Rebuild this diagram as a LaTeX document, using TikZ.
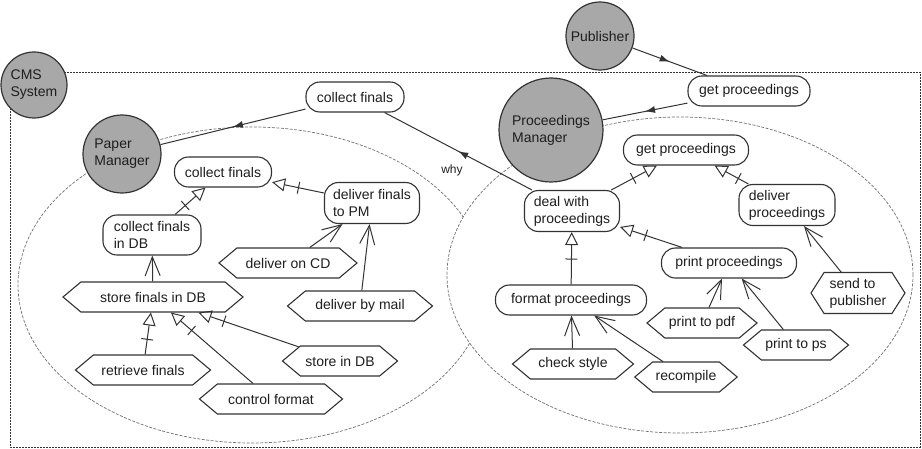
\documentclass[tikz,border=0pt]{standalone}
\usepackage{fontspec}
\setmainfont{Liberation Sans}
\usetikzlibrary{arrows.meta,shapes.symbols,decorations.markings}
\definecolor{ink}{HTML}{333333}
\definecolor{txt}{HTML}{1E1E1E}
\definecolor{actorfill}{HTML}{A8A8A8}
\definecolor{bound}{HTML}{707070}
\begin{document}
\begin{tikzpicture}[x=1pt,y=-1pt,
  every node/.style={font=\fontsize{14}{17}\selectfont, text=txt},
  actor/.style={circle, draw=ink, line width=1.2pt, fill=actorfill, align=left, inner sep=0pt},
  goal/.style={rectangle, rounded corners=14pt, draw=ink, line width=1.1pt, fill=white,
    minimum height=30pt, inner sep=3pt, align=left},
  task/.style={signal, signal to=east and west, signal pointer angle=80, draw=ink,
    line width=1.1pt, fill=white, minimum height=30pt, inner sep=3pt, align=left},
  link/.style={draw=ink, line width=1pt},
  meansend/.style={link, -{Straight Barb[length=19pt,width=15pt]}},
  decomp/.style={link, -{Triangle[open,length=13pt,width=13pt]},
    postaction={decorate, decoration={markings,
      mark=at position -27pt with {\draw[-, ink, line width=1pt] (0pt,-6pt) -- (0pt,6pt);}}}},
  depend/.style={link, postaction={decorate, decoration={markings,
      mark=at position 0.5 with {\arrow[ink]{Latex[length=10pt,width=7pt]}}}}},
  sysbound/.style={draw=ink, line width=0.8pt, dash pattern=on 2pt off 1pt},
  actbound/.style={draw=bound, line width=0.7pt, dash pattern=on 3pt off 1.5pt},
]
\useasboundingbox (0,0) rectangle (922,449);

% system and actor boundaries (the right boundary is opaque and hides the left one)
\draw[sysbound] (10,72) rectangle (920,447);
\draw[actbound] (252,285) ellipse [x radius=234pt, y radius=158pt];
\draw[actbound, fill=white] (680,275) ellipse [x radius=233pt, y radius=158pt];

% actors
\node[actor, minimum size=66pt]  (cms) at (34,85)   {CMS\\System};
\node[actor, minimum size=78pt]  (pm)  at (122,154) {Paper\\Manager};
\node[actor, minimum size=68pt]  (pub) at (600,36)  {Publisher};
\node[actor, minimum size=104pt] (prm) at (551,130) {Proceedings\\Manager};

% dependums
\node[goal, minimum width=98pt]  (cft) at (355,97) {collect finals};
\node[goal, minimum width=122pt] (gpt) at (749,91) {get proceedings};

% Paper Manager internals
\node[goal, minimum width=97pt] (cf) at (223,172) {collect finals};
\node[goal, minimum width=95pt, minimum height=41pt] (dftp) at (372,203) {deliver finals\\to PM};
\node[goal, minimum width=98pt, minimum height=40pt] (cfdb) at (152,235) {collect finals\\in DB};
\node[task, minimum width=180pt] (sfdb) at (153,297) {store finals in DB};
\node[task, minimum width=138pt] (cd)   at (288,263) {deliver on CD};
\node[task, minimum width=145pt] (mail) at (360,306) {deliver by mail};
\node[task, minimum width=135pt] (rf)   at (143,370) {retrieve finals};
\node[task, minimum width=115pt] (sdb)  at (340,361) {store in DB};
\node[task, minimum width=143pt] (ctf)  at (271,399) {control format};

% Proceedings Manager internals
\node[goal, minimum width=125pt] (gp) at (686,150) {get proceedings};
\node[goal, minimum width=96pt, minimum height=41pt] (dp)  at (787,205) {deliver\\proceedings};
\node[goal, minimum width=95pt, minimum height=41pt] (dwp) at (572,211) {deal with\\proceedings};
\node[goal, minimum width=135pt] (pp) at (729,263) {print proceedings};
\node[goal, minimum width=151pt] (fp) at (571,300) {format proceedings};
\node[task, minimum width=121pt] (cs)  at (573,364) {check style};
\node[task, minimum width=100pt] (rc)  at (686,377) {recompile};
\node[task, minimum width=110pt] (pdf) at (702,323) {print to pdf};
\node[task, minimum width=105pt] (ps)  at (796,345) {print to ps};
\node[task, minimum width=94pt, minimum height=41pt, signal pointer angle=115] (stp) at (858,293) {send to\\publisher};

\node[font=\fontsize{12}{14}\selectfont] (why) at (452,170) {why};

% dependencies
\draw[depend] (pub) -- (gpt);
\draw[depend] (gpt) -- (prm);
\draw[depend] (cft) -- (pm);
\draw[depend] (dwp) -- (cft);

% decompositions
\draw[decomp] (cfdb) -- (cf);
\draw[decomp] (dftp) -- (cf);
\draw[decomp] (rf) -- (sfdb);
\draw[decomp] (ctf) -- (sfdb);
\draw[decomp] (sdb) -- (sfdb);
\draw[decomp] (dwp) -- (gp);
\draw[decomp] (dp) -- (gp);
\draw[decomp] (pp) -- (dwp);
\draw[decomp] (fp) -- (dwp);

% means-ends
\draw[meansend] (sfdb) -- (cfdb);
\draw[meansend] (cd) -- (dftp);
\draw[meansend] (mail) -- (dftp);
\draw[meansend] (cs) -- (fp);
\draw[meansend] (rc) -- (fp);
\draw[meansend] (pdf) -- (pp);
\draw[meansend] (ps) -- (pp);
\draw[meansend] (stp) -- (dp);
\end{tikzpicture}
\end{document}
